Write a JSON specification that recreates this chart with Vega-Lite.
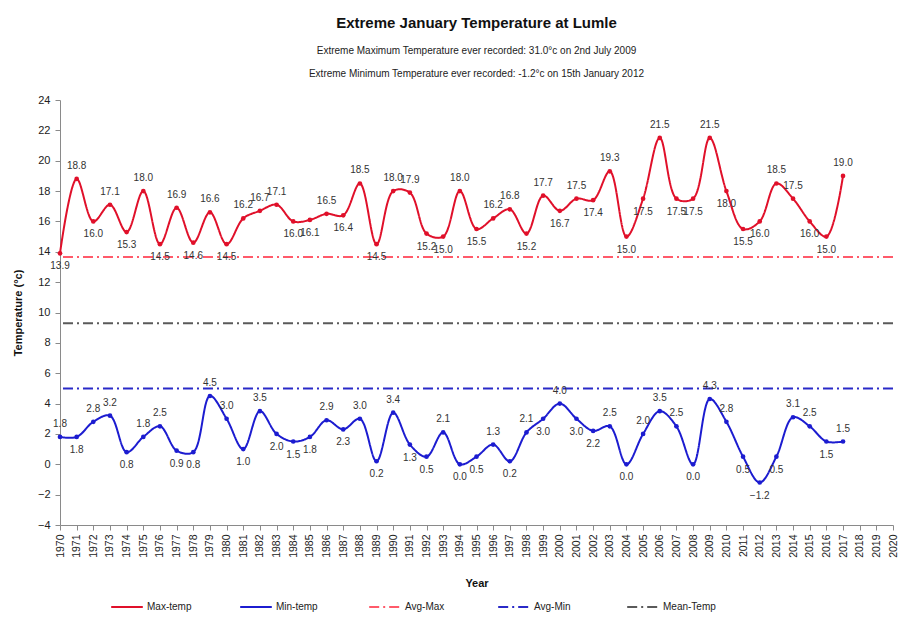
{
  "$schema": "https://vega.github.io/schema/vega-lite/v6.json",
  "width": 833,
  "height": 425,
  "autosize": {"type": "none"},
  "padding": {"left": 60, "top": 100, "right": 20, "bottom": 99},
  "background": "white",
  "config": {
    "font": "Liberation Sans",
    "view": {"stroke": null},
    "axis": {"labelFont": "Liberation Sans", "titleFont": "Liberation Sans", "domainColor": "#8a8a8a", "tickColor": "#8a8a8a", "labelColor": "#222", "titleColor": "#111", "grid": false},
    "legend": {"labelFont": "Liberation Sans"}
  },
  "title": {
    "text": "Extreme January Temperature at Lumle",
    "subtitle": ["Extreme Maximum Temperature ever recorded: 31.0°c on 2nd July 2009", "Extreme Minimum Temperature ever recorded: -1.2°c on 15th January 2012"],
    "fontSize": 15, "fontWeight": "bold", "color": "#111",
    "subtitleFontSize": 10, "subtitleColor": "#222", "subtitleLineHeight": 23, "subtitlePadding": 15,
    "anchor": "middle", "offset": 15
  },
  "layer": [
    {
      "data": {"values": [
        {"series": "Avg-Max", "value": 13.65},
        {"series": "Avg-Min", "value": 5.0},
        {"series": "Mean-Temp", "value": 9.3}
      ]},
      "mark": {"type": "rule", "strokeWidth": 2},
      "encoding": {
        "y": {"field": "value", "type": "quantitative", "scale": {"domain": [-4, 24], "nice": false}, "axis": {"title": "Temperature (°c)", "values": [-4,-2,0,2,4,6,8,10,12,14,16,18,20,22,24], "labelFontSize": 11, "titleFontSize": 11, "titleFontWeight": "bold", "tickSize": 5, "labelPadding": 5, "titlePadding": 14}},
        "color": {"field": "series", "type": "nominal", "scale": {"domain": ["Max-temp", "Min-temp", "Avg-Max", "Avg-Min", "Mean-Temp"], "range": ["#e0102a", "#1c1cd0", "#ff5a6a", "#2a2ac8", "#5a5a5a"]},
          "legend": {"title": null, "orient": "none", "legendX": 50, "legendY": 490, "direction": "horizontal", "columns": 5, "gridAlign": "all", "columnPadding": 36, "symbolType": "stroke", "symbolSize": 1000, "symbolStrokeWidth": 2, "labelFontSize": 10, "labelColor": "#222", "labelOffset": 3}},
        "strokeDash": {"field": "series", "type": "nominal", "scale": {"domain": ["Max-temp", "Min-temp", "Avg-Max", "Avg-Min", "Mean-Temp"], "range": [[1, 0], [1, 0], [10, 4, 2, 4], [10, 4, 2, 4], [10, 4, 2, 4]]}, "legend": {"title": null}}
      }
    },
    {
      "data": {"values": [
        {"year": 1970, "Max-temp": 13.9, "Min-temp": 1.8},
        {"year": 1971, "Max-temp": 18.8, "Min-temp": 1.8},
        {"year": 1972, "Max-temp": 16.0, "Min-temp": 2.8},
        {"year": 1973, "Max-temp": 17.1, "Min-temp": 3.2},
        {"year": 1974, "Max-temp": 15.3, "Min-temp": 0.8},
        {"year": 1975, "Max-temp": 18.0, "Min-temp": 1.8},
        {"year": 1976, "Max-temp": 14.5, "Min-temp": 2.5},
        {"year": 1977, "Max-temp": 16.9, "Min-temp": 0.9},
        {"year": 1978, "Max-temp": 14.6, "Min-temp": 0.8},
        {"year": 1979, "Max-temp": 16.6, "Min-temp": 4.5},
        {"year": 1980, "Max-temp": 14.5, "Min-temp": 3.0},
        {"year": 1981, "Max-temp": 16.2, "Min-temp": 1.0},
        {"year": 1982, "Max-temp": 16.7, "Min-temp": 3.5},
        {"year": 1983, "Max-temp": 17.1, "Min-temp": 2.0},
        {"year": 1984, "Max-temp": 16.0, "Min-temp": 1.5},
        {"year": 1985, "Max-temp": 16.1, "Min-temp": 1.8},
        {"year": 1986, "Max-temp": 16.5, "Min-temp": 2.9},
        {"year": 1987, "Max-temp": 16.4, "Min-temp": 2.3},
        {"year": 1988, "Max-temp": 18.5, "Min-temp": 3.0},
        {"year": 1989, "Max-temp": 14.5, "Min-temp": 0.2},
        {"year": 1990, "Max-temp": 18.0, "Min-temp": 3.4},
        {"year": 1991, "Max-temp": 17.9, "Min-temp": 1.3},
        {"year": 1992, "Max-temp": 15.2, "Min-temp": 0.5},
        {"year": 1993, "Max-temp": 15.0, "Min-temp": 2.1},
        {"year": 1994, "Max-temp": 18.0, "Min-temp": 0.0},
        {"year": 1995, "Max-temp": 15.5, "Min-temp": 0.5},
        {"year": 1996, "Max-temp": 16.2, "Min-temp": 1.3},
        {"year": 1997, "Max-temp": 16.8, "Min-temp": 0.2},
        {"year": 1998, "Max-temp": 15.2, "Min-temp": 2.1},
        {"year": 1999, "Max-temp": 17.7, "Min-temp": 3.0},
        {"year": 2000, "Max-temp": 16.7, "Min-temp": 4.0},
        {"year": 2001, "Max-temp": 17.5, "Min-temp": 3.0},
        {"year": 2002, "Max-temp": 17.4, "Min-temp": 2.2},
        {"year": 2003, "Max-temp": 19.3, "Min-temp": 2.5},
        {"year": 2004, "Max-temp": 15.0, "Min-temp": 0.0},
        {"year": 2005, "Max-temp": 17.5, "Min-temp": 2.0},
        {"year": 2006, "Max-temp": 21.5, "Min-temp": 3.5},
        {"year": 2007, "Max-temp": 17.5, "Min-temp": 2.5},
        {"year": 2008, "Max-temp": 17.5, "Min-temp": 0.0},
        {"year": 2009, "Max-temp": 21.5, "Min-temp": 4.3},
        {"year": 2010, "Max-temp": 18.0, "Min-temp": 2.8},
        {"year": 2011, "Max-temp": 15.5, "Min-temp": 0.5},
        {"year": 2012, "Max-temp": 16.0, "Min-temp": -1.2},
        {"year": 2013, "Max-temp": 18.5, "Min-temp": 0.5},
        {"year": 2014, "Max-temp": 17.5, "Min-temp": 3.1},
        {"year": 2015, "Max-temp": 16.0, "Min-temp": 2.5},
        {"year": 2016, "Max-temp": 15.0, "Min-temp": 1.5},
        {"year": 2017, "Max-temp": 19.0, "Min-temp": 1.5}
      ]},
      "transform": [
        {"fold": ["Max-temp", "Min-temp"], "as": ["series", "value"]},
        {"window": [{"op": "lag", "field": "value", "as": "prev"}, {"op": "lead", "field": "value", "as": "next"}], "groupby": ["series"], "sort": [{"field": "year"}]}
      ],
      "encoding": {
        "x": {"field": "year", "type": "quantitative", "scale": {"domain": [1970, 2020], "nice": false, "zero": false},
          "axis": {"title": "Year", "format": "d", "values": [1970,1971,1972,1973,1974,1975,1976,1977,1978,1979,1980,1981,1982,1983,1984,1985,1986,1987,1988,1989,1990,1991,1992,1993,1994,1995,1996,1997,1998,1999,2000,2001,2002,2003,2004,2005,2006,2007,2008,2009,2010,2011,2012,2013,2014,2015,2016,2017,2018,2019,2020], "labelAngle": 270, "labelFontSize": 10.5, "labelOverlap": false, "labelBound": false, "labelFlush": false, "tickSize": 5, "labelPadding": 4, "titleFontSize": 11, "titleFontWeight": "bold", "titlePadding": 20}},
        "y": {"field": "value", "type": "quantitative", "scale": {"domain": [-4, 24], "nice": false}, "axis": {"title": "Temperature (°c)", "values": [-4,-2,0,2,4,6,8,10,12,14,16,18,20,22,24], "labelFontSize": 11, "titleFontSize": 11, "titleFontWeight": "bold", "tickSize": 5, "labelPadding": 5, "titlePadding": 14}}
      },
      "layer": [
        {
          "mark": {"type": "line", "interpolate": "catmull-rom", "strokeWidth": 2},
          "encoding": {
            "color": {"field": "series", "type": "nominal"},
            "strokeDash": {"field": "series", "type": "nominal"}
          }
        },
        {
          "mark": {"type": "point", "filled": true, "size": 22, "opacity": 1},
          "encoding": {
            "color": {"field": "series", "type": "nominal", "legend": null}
          }
        },
        {
          "transform": [{"filter": "datum.value >= ((isValid(datum.prev) ? datum.prev : datum.next) + (isValid(datum.next) ? datum.next : datum.prev)) / 2"}],
          "mark": {"type": "text", "dy": -8, "baseline": "bottom", "fontSize": 10, "color": "#333"},
          "encoding": {"text": {"field": "value", "type": "quantitative", "format": ".1f"}}
        },
        {
          "transform": [{"filter": "datum.value < ((isValid(datum.prev) ? datum.prev : datum.next) + (isValid(datum.next) ? datum.next : datum.prev)) / 2"}],
          "mark": {"type": "text", "dy": 8, "baseline": "top", "fontSize": 10, "color": "#333"},
          "encoding": {"text": {"field": "value", "type": "quantitative", "format": ".1f"}}
        }
      ]
    }
  ]
}
